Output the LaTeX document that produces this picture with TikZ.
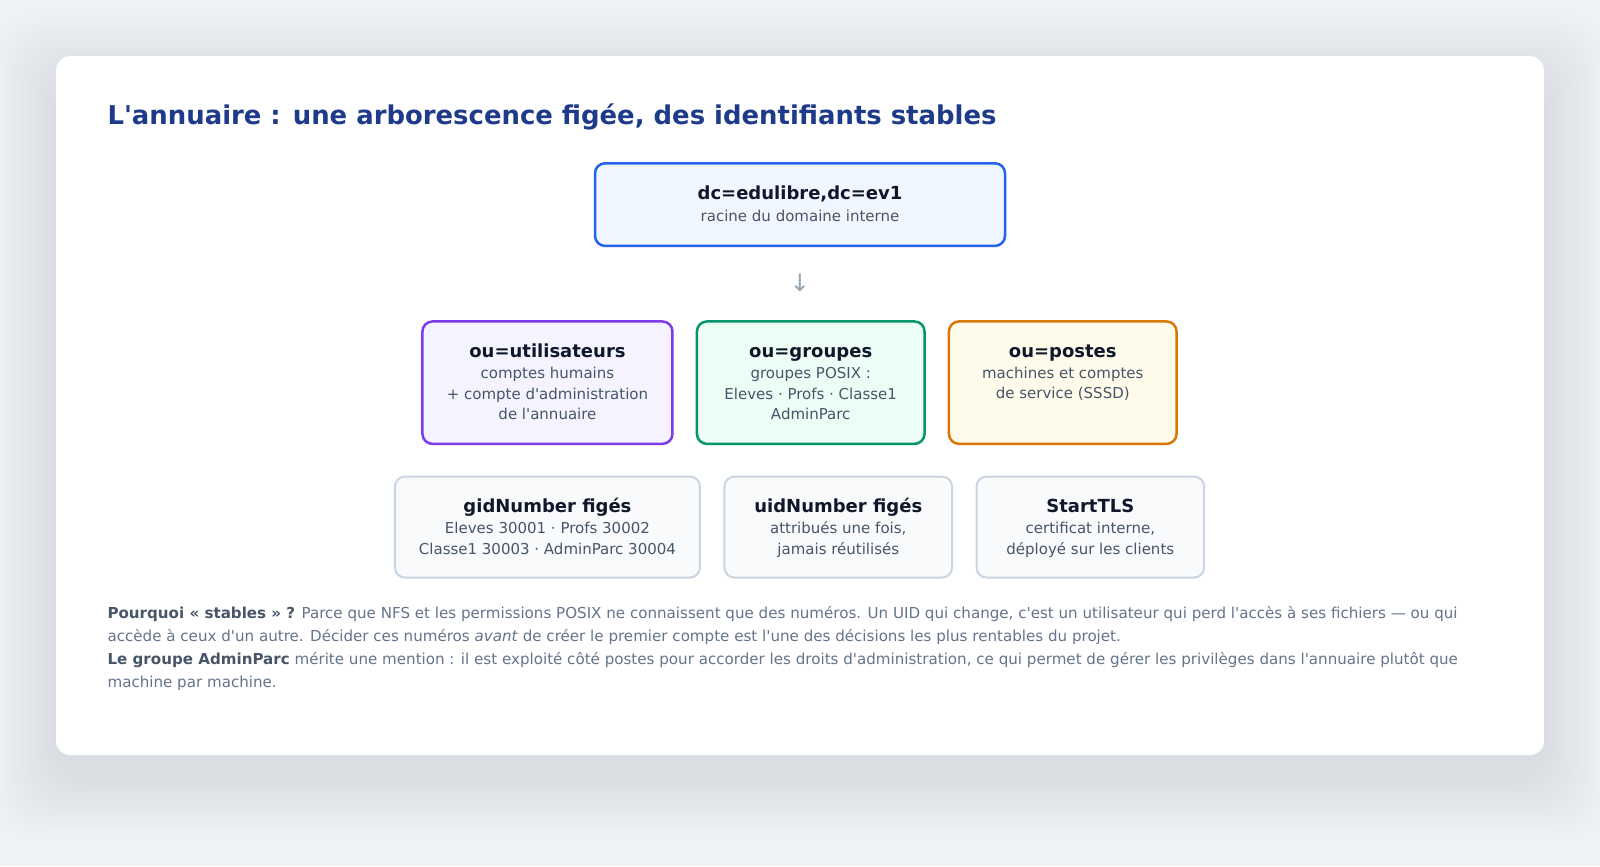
\documentclass[tikz,border=0pt]{standalone}
\usepackage{fontspec}
\setmainfont{DejaVu Sans}[Ligatures=TeXOff]
\usetikzlibrary{positioning}

\definecolor{pagebg}{HTML}{EEF1F6}
\definecolor{shadowcol}{HTML}{1E293B}
\definecolor{ttlblue}{HTML}{1E3A8A}
\definecolor{ttltxt}{HTML}{0F172A}
\definecolor{subtxt}{HTML}{475569}
\definecolor{paratxt}{HTML}{64748B}
\definecolor{arrowcol}{HTML}{94A3B8}
\definecolor{rootline}{HTML}{2563EB}
\definecolor{rootfill}{HTML}{EFF6FF}
\definecolor{userline}{HTML}{7C3AED}
\definecolor{userfill}{HTML}{F5F3FF}
\definecolor{grpline}{HTML}{059669}
\definecolor{grpfill}{HTML}{ECFDF5}
\definecolor{hostline}{HTML}{D97706}
\definecolor{hostfill}{HTML}{FFFBEB}
\definecolor{infoline}{HTML}{CBD5E1}
\definecolor{infofill}{HTML}{F8FAFC}

\tikzset{
  > = stealth,
  box/.style = {draw, rounded corners=5pt, line width=1.25pt, inner sep=0pt},
  rootbox/.style = {box, draw=rootline, fill=rootfill, minimum width=205pt, minimum height=41.3pt},
  ouybox/.style 2 args = {box, draw=#1, fill=#2, minimum height=61.2pt},
  infobox/.style = {box, draw=infoline, fill=infofill, line width=1pt, minimum height=50.5pt},
  boxtxt/.style = {align=center, anchor=base, inner sep=0pt, text=subtxt, font=\fontsize{7.5}{10.2}\selectfont},
}
\newcommand{\boxttl}[1]{{\fontsize{9}{11}\selectfont\bfseries\color{ttltxt}#1}}

\begin{document}
\begin{tikzpicture}[x=0.5102pt, y=-0.5102pt]
% page and card
\fill[pagebg] (0,0) rectangle (1568,849);
\useasboundingbox (0,0) rectangle (1568,849);
\foreach \i in {1,...,20}
  \fill[shadowcol, opacity=0.004, rounded corners=20pt] (55-3*\i,75-3*\i) rectangle (1513+3*\i,760+3*\i);
\fill[white, rounded corners=7pt] (55,55) rectangle (1513,740);

% title
\node[anchor=base west, inner sep=0pt, text=ttlblue, font=\fontsize{12.95}{15}\selectfont\bfseries] (title) at (105,122)
  {L'annuaire : une arborescence figée, des identifiants stables};

% root (text nodes sit on the baseline of their last line)
\node[rootbox] (dc) at (784,200.5) {};
\node[boxtxt] (dctxt) at (784,217) {\boxttl{dc=edulibre,dc=ev1}\\[1pt] racine du domaine interne};
\node[text=arrowcol, inner sep=0pt, font=\fontsize{12}{14}\selectfont] (down) at (784,277) {↓};

% organisational units
\node[ouybox={userline}{userfill}, minimum width=125pt] (users) at (536.5,375) {};
\node[ouybox={grpline}{grpfill}, minimum width=113.8pt] (groups) at (794.5,375) {};
\node[ouybox={hostline}{hostfill}, minimum width=113.8pt] (hosts) at (1041.5,375) {};
\node[boxtxt] (userstxt) at (536.5,411) {\boxttl{ou=utilisateurs}\\[0.5pt] comptes humains\\ + compte d'administration\\ de l'annuaire};
\node[boxtxt] (groupstxt) at (794.5,411) {\boxttl{ou=groupes}\\[0.5pt] groupes POSIX :\\ Eleves · Profs · Classe1\\ AdminParc};
\node[boxtxt] (hoststxt) at (1041.5,391) {\boxttl{ou=postes}\\[0.5pt] machines et comptes\\ de service (SSSD)};

% identifiers
\node[infobox, minimum width=152.5pt] (gid) at (536.5,516.5) {};
\node[infobox, minimum width=113.8pt] (uid) at (821.5,516.5) {};
\node[infobox, minimum width=113.8pt] (tls) at (1068.5,516.5) {};
\node[boxtxt] (gidtxt) at (536.5,543) {\boxttl{gidNumber figés}\\[0.5pt] Eleves 30001 · Profs 30002\\ Classe1 30003 · AdminParc 30004};
\node[boxtxt] (uidtxt) at (821.5,543) {\boxttl{uidNumber figés}\\[0.5pt] attribués une fois,\\ jamais réutilisés};
\node[boxtxt] (tlstxt) at (1068.5,543) {\boxttl{StartTLS}\\[0.5pt] certificat interne,\\ déployé sur les clients};

% note
\node[anchor=base west, inner sep=0pt, align=left, text=paratxt, font=\fontsize{7.55}{11.5}\selectfont] (note) at (105,673.5)
  {{\bfseries\color{subtxt}Pourquoi « stables » ?} Parce que NFS et les permissions POSIX ne connaissent que des numéros. Un UID qui change, c'est un utilisateur qui perd l'accès à ses fichiers — ou qui\\
   accède à ceux d'un autre. Décider ces numéros \textit{avant} de créer le premier compte est l'une des décisions les plus rentables du projet.\\
   {\bfseries\color{subtxt}Le groupe AdminParc} mérite une mention : il est exploité côté postes pour accorder les droits d'administration, ce qui permet de gérer les privilèges dans l'annuaire plutôt que\\
   machine par machine.};
\end{tikzpicture}
\end{document}
